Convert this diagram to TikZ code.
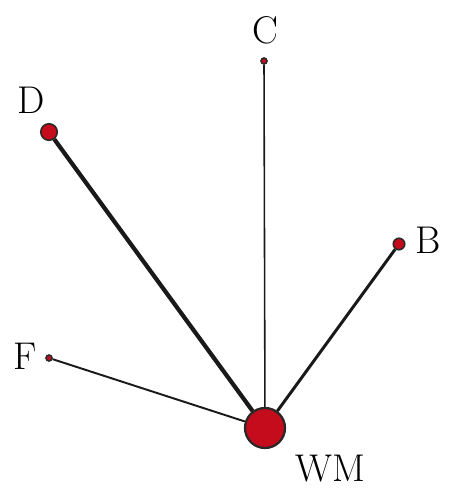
\documentclass[tikz,border=0pt]{standalone}
\usepackage{tikz}
\usetikzlibrary{positioning}

\definecolor{dotred}{RGB}{196,12,28}
\definecolor{rimgray}{RGB}{45,40,40}

\begin{document}
\begin{tikzpicture}[
    x=0.02cm, y=-0.02cm,
    dot/.style={
        circle,
        draw=rimgray,
        fill=dotred,
        inner sep=0pt,
        line width=0.9pt
    },
    hub/.style={
        dot,
        minimum size=0.8cm,
        line width=1.3pt
    },
    lbl/.style={
        font=\fontsize{22}{26}\selectfont,
        inner sep=0pt
    },
    spoke/.style={
        draw=black!90
    }
]
\useasboundingbox (0,0) rectangle (455,500);

% Hub
\node[hub] (wm) at (265,428) {};
\node[lbl] (wmlabel) at (330,469) {WM};

% Leaves with their labels
\foreach \name/\px/\py/\sz/\lx/\ly/\txt in {
    c/264/61/0.12cm/265/30/C,
    d/49/132/0.33cm/31/100/D,
    b/399/244/0.23cm/428/240/B,
    f/49/358/0.12cm/25/356/F} {
    \node[dot, minimum size=\sz] (\name) at (\px,\py) {};
    \node[lbl] (\name label) at (\lx,\ly) {\txt};
}

% Spokes
\draw[spoke, line width=2.4pt] (d) -- (wm);
\draw[spoke, line width=1.7pt] (b) -- (wm);
\draw[spoke, line width=0.9pt] (c) -- (wm);
\draw[spoke, line width=1.1pt] (f) -- (wm);

\end{tikzpicture}
\end{document}
